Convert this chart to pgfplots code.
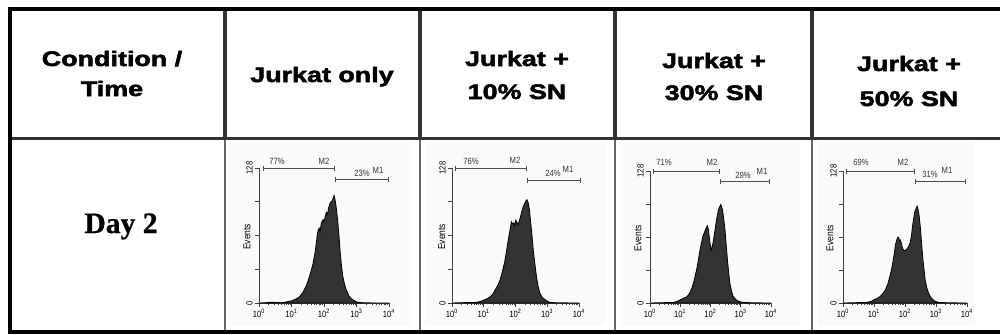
\documentclass[border=0pt]{standalone}
\usepackage{pgfplots}
\pgfplotsset{compat=1.18}
\usepackage{fontspec}
\usetikzlibrary{arrows.meta}
\setmainfont{Liberation Sans}
\newfontfamily\hdrfont{Liberation Sans}[FakeStretch=1.28,BoldFeatures={FakeBold=2.6}]
\newfontfamily\dayfont{Liberation Serif}[BoldFeatures={FakeBold=0.8}]
\newfontfamily\hfont{Liberation Sans}[FakeStretch=0.85]

\pgfplotstableread{
x y
0 0
0.2 0.3
0.4 0.8
0.5 0.5
0.7 0.3
0.85 1.0
0.9 1.5
1.0 2.0
1.15 4
1.25 6
1.35 10
1.45 16
1.51 21
1.6 30
1.66 37
1.72 47
1.76 56
1.79 64
1.82 69
1.85 71
1.88 68
1.92 76
1.97 79
2.0 77
2.03 81
2.07 86
2.11 84
2.14 90
2.19 95
2.25 97
2.28 99
2.31 102
2.34 98
2.37 92
2.40 84
2.43 75
2.47 60
2.50 47
2.54 35
2.58 25
2.63 18
2.69 12
2.76 7
2.84 4
2.92 2.5
3.0 1
3.1 0.4
3.3 0.2
3.6 0
4.0 0
}\histA

\pgfplotstableread{
x y
0 0
0.3 0.3
0.6 0.5
0.77 0.6
0.9 1.5
0.98 2.5
1.1 4
1.19 5.7
1.28 8
1.35 12
1.43 16
1.51 21.5
1.58 29
1.66 39
1.72 50
1.77 59.5
1.82 68
1.87 77
1.91 75
1.95 76
1.98 73
2.01 78.5
2.05 76
2.08 74
2.12 78
2.16 82
2.20 87
2.24 91
2.28 94
2.33 97
2.36 98
2.40 95
2.44 88
2.47 78.5
2.52 64
2.56 50
2.61 37
2.66 25
2.71 16
2.77 9
2.85 5
2.93 3.2
3.0 1.8
3.08 0.6
3.3 0.2
4 0
}\histB

\pgfplotstableread{
x y
0 0
0.4 0.3
0.77 0.6
0.9 1.5
0.99 3
1.1 4.5
1.21 5.8
1.3 9
1.38 14
1.46 22
1.54 32
1.6 42
1.65 51
1.70 58
1.74 64
1.78 67
1.82 70
1.86 73
1.90 75
1.93 71
1.95 66
1.98 59
2.02 51
2.05 54
2.09 59
2.13 67
2.18 77
2.22 84
2.26 90
2.30 93
2.34 95.5
2.37 93
2.40 90
2.44 81
2.48 70.5
2.52 56
2.56 41.7
2.60 30
2.64 19
2.70 11
2.75 6.4
2.83 3.5
2.92 1.9
3.0 1
3.09 0.6
3.4 0.2
4 0
}\histC

\pgfplotstableread{
x y
0 0
0.4 0.3
0.77 0.6
0.9 1.5
0.99 3
1.1 4.5
1.2 6.4
1.28 9
1.37 12.8
1.44 18
1.51 25.6
1.57 33
1.62 41.6
1.66 49
1.69 56
1.73 61
1.77 64
1.80 63
1.83 60
1.85 61
1.89 57
1.92 53
1.96 51
2.01 51
2.05 52
2.08 53
2.12 55
2.17 59
2.21 66
2.24 74
2.28 82
2.31 88
2.35 91
2.39 94
2.42 91
2.45 86
2.49 75
2.52 64
2.55 52
2.58 41.6
2.62 31
2.65 22.4
2.70 15
2.76 9.6
2.84 5
2.92 2.6
3.0 1.3
3.08 0.6
3.4 0.2
4 0
}\histD

\pgfplotsset{hist/.style={
  scale only axis, anchor=south west,
  xmin=0, xmax=4, ymin=0, ymax=128,
  axis lines=left, axis line style={-, black!75, line width=0.5pt},
  xtick={0,1,2,3,4},
  xticklabels={10\textsuperscript{0},10\textsuperscript{1},10\textsuperscript{2},10\textsuperscript{3},10\textsuperscript{4}},
  minor xtick={0.301,0.477,0.602,0.699,0.778,0.845,0.903,0.954,
    1.301,1.477,1.602,1.699,1.778,1.845,1.903,1.954,
    2.301,2.477,2.602,2.699,2.778,2.845,2.903,2.954,
    3.301,3.477,3.602,3.699,3.778,3.845,3.903,3.954},
  ytick={0,32,64,96,128}, yticklabels={0,,,,128},
  tick style={black!75, line width=0.4pt},
  major tick length=2pt, minor tick length=1pt,
  tick align=outside,
  ticklabel style={font=\hfont\fontsize{4.5}{5}\selectfont, inner sep=1pt},
  yticklabel style={rotate=90, anchor=south},
  ylabel=Events,
  ylabel style={font=\hfont\fontsize{5}{5}\selectfont, anchor=center},
  clip=false,
}}

\begin{document}
\begin{tikzpicture}[x=0.5pt,y=0.5pt]
\useasboundingbox (0,0) rectangle (1000,334);

% faint panel backgrounds
\fill[black!2] (228,8) rectangle (412,191);
\fill[black!2] (425,8) rectangle (605,191);
\fill[black!2] (620,8) rectangle (800,191);
\fill[black!2] (818,8) rectangle (975,191);

% histograms
\begin{axis}[hist, at={(129.5pt,15.5pt)}, width=65pt, height=67.5pt,
  ylabel style={at={(axis description cs:-0.092,0.49)}}]
\addplot[draw=black, line width=0.4pt, fill=black!80] table[x=x,y=y] {\histA} \closedcycle;
\end{axis}
\begin{axis}[hist, at={(226pt,15.5pt)}, width=63.5pt, height=67.5pt,
  ylabel style={at={(axis description cs:-0.08,0.49)}}]
\addplot[draw=black, line width=0.4pt, fill=black!80] table[x=x,y=y] {\histB} \closedcycle;
\end{axis}
\begin{axis}[hist, at={(325pt,15.5pt)}, width=60.5pt, height=66pt,
  ylabel style={at={(axis description cs:-0.099,0.49)}}]
\addplot[draw=black, line width=0.4pt, fill=black!80] table[x=x,y=y] {\histC} \closedcycle;
\end{axis}
\begin{axis}[hist, at={(421.5pt,15.5pt)}, width=62pt, height=66pt,
  ylabel style={at={(axis description cs:-0.105,0.49)}}]
\addplot[draw=black, line width=0.4pt, fill=black!80] table[x=x,y=y] {\histD} \closedcycle;
\end{axis}

% gate brackets
\begin{scope}[black!70, line width=0.45pt, {Bar[width=2.5pt]}-{Bar[width=2.5pt]}]
\draw (263,166) -- (335,166); \draw (335,155) -- (389,155);
\draw (455,166) -- (527,166); \draw (527,154) -- (581,154);
\draw (653,163) -- (720,163); \draw (720,153) -- (770,153);
\draw (846,163) -- (915,163); \draw (915,153) -- (966,153);
\end{scope}
\begin{scope}[every node/.style={font=\hfont\fontsize{4.5}{5}\selectfont, inner sep=0pt, text=black!80}]
\node at (277,173) {77\%}; \node at (324,173) {M2}; \node at (362,161) {23\%}; \node at (378,164) {M1};
\node at (471,173) {76\%}; \node at (515,174) {M2}; \node at (553,161) {24\%}; \node at (568,165) {M1};
\node at (664,172) {71\%}; \node at (712,172) {M2}; \node at (743,159) {29\%}; \node at (762,163) {M1};
\node at (861,172) {69\%}; \node at (903,172) {M2}; \node at (930,160) {31\%}; \node at (947,164) {M1};
\end{scope}

% table lines
\foreach \cx in {225,420,615,812} {
  \draw[line width=1.75pt, black!80] (\cx,325) -- (\cx,195.5);
  \draw[line width=1.2pt, black!60] (\cx,195.5) -- (\cx,2);
}
\draw[line width=1.5pt, black!80] (10,195.5) -- (1000,195.5);
\draw[line width=2pt, black, line join=miter] (1000,325) -- (10,325) -- (10,2) -- (1000,2);

% header text
\begin{scope}[every node/.style={font=\hdrfont\bfseries\fontsize{10.5}{12}\selectfont, anchor=base, inner sep=0pt}]
\node at (112,268) {Condition /};
\node at (112,238) {Time};
\node at (322,252) {Jurkat only};
\node at (517,268) {Jurkat +};
\node at (517,235) {10\% SN};
\node at (714,266) {Jurkat +};
\node at (714,234) {30\% SN};
\node at (909,263) {Jurkat +};
\node at (909,228) {50\% SN};
\end{scope}
\node[font=\dayfont\bfseries\fontsize{14.8}{16}\selectfont, anchor=base, inner sep=0pt] at (121,101) {Day 2};
\end{tikzpicture}
\end{document}
